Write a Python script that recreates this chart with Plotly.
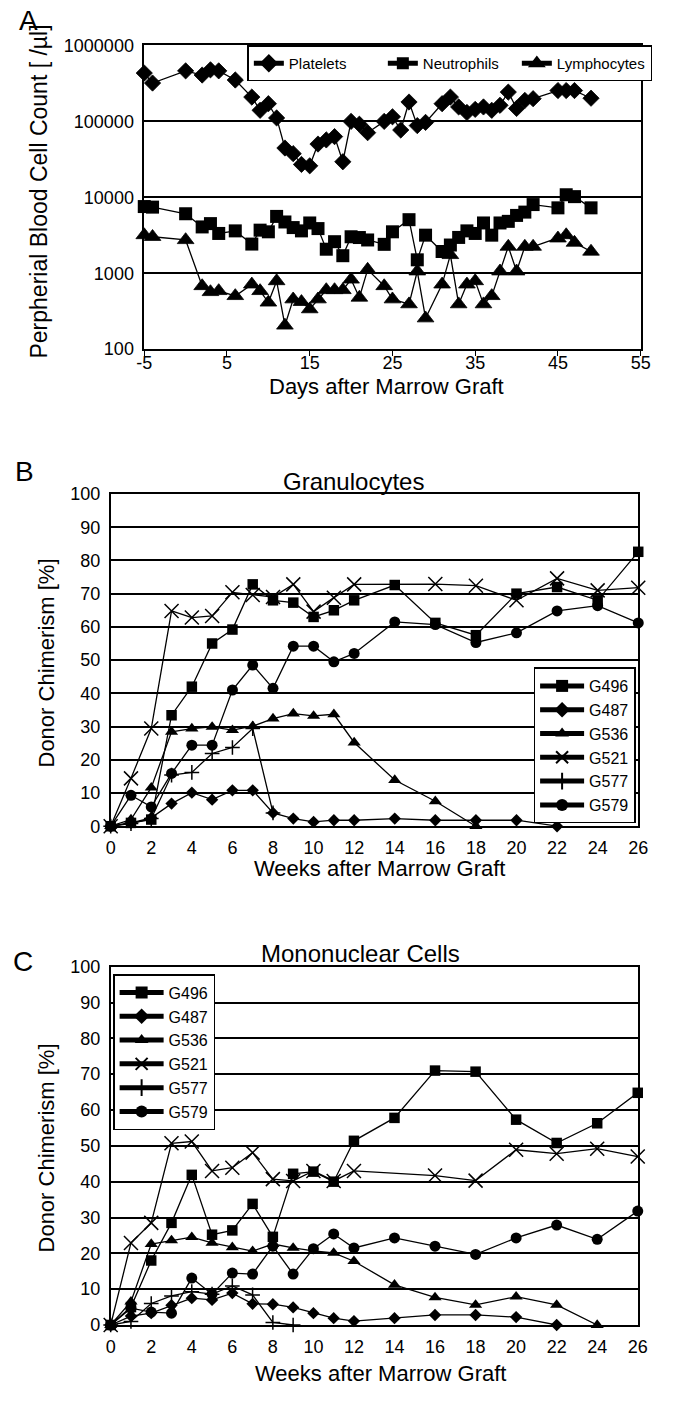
import plotly.graph_objects as go

W, H = 675, 1404
FONT = "Liberation Sans, Arial, sans-serif"

# ---------------- Panel A data ----------------
platelet_days = [-5, -4, 0, 2, 3, 4, 6, 8, 9, 10, 11, 12, 13, 14, 15, 16, 17, 18, 19, 20,
                 21, 22, 24, 25, 26, 27, 28, 29, 31, 32, 33, 34, 35, 36, 37, 38, 39, 40, 41, 42,
                 45, 46, 47, 49]
platelets = [433000, 320000, 463000, 408000, 478000, 463000, 351000, 209000, 140000, 171000,
             111000, 44600, 37600, 27100, 26000, 50300, 57000, 63000, 29400, 100000,
             91700, 71000, 100000, 115000, 77000, 180000, 88000, 97000, 171000, 209000,
             155000, 131000, 144000, 155000, 140000, 163000, 243000, 148000, 189000, 199000,
             255000, 255000, 255000, 202000]
cell_days = [-5, -4, 0, 2, 3, 4, 6, 8, 9, 10, 11, 12, 13, 14, 15, 16, 17, 18, 19, 20,
             21, 22, 24, 25, 27, 28, 29, 31, 32, 33, 34, 35, 36, 37, 38, 39, 40, 41, 42,
             45, 46, 47, 49]
neutrophils = [7550, 7420, 6070, 4070, 4500, 3340, 3610, 2420, 3690, 3510,
               5600, 4730, 3990, 3610, 4590, 3870, 2070, 2600, 1700, 3020,
               2950, 2740, 2400, 3510, 5070, 1500, 3170, 1930, 2350, 2960,
               3610, 3340, 4590, 3170, 4590, 4820, 5770, 6380, 8020,
               7260, 10800, 10200, 7260]
lymphocytes = [3180, 3020, 2740, 678, 566, 584, 502, 713, 584, 412,
               788, 205, 454, 419, 336, 454, 601, 601, 601, 828,
               478, 1115, 678, 454, 391, 1060, 255, 713, 1740, 391,
               713, 788, 391, 502, 1060, 2240, 1060, 2240, 2240,
               2880, 3180, 2530, 1930]
a_xticks = [-5, 5, 15, 25, 35, 45, 55]
a_xlabels = ["-5", "5", "15", "25", "35", "45", "55"]
a_yticks = [100, 1000, 10000, 100000, 1000000]

# ---------------- Panel B / C data ----------------
wk_full = [0, 1, 2, 3, 4, 5, 6, 7, 8, 9, 10, 11, 12, 14, 16, 18, 20, 22, 24, 26]
wk_to22 = [0, 1, 2, 3, 4, 5, 6, 7, 8, 9, 10, 11, 12, 14, 16, 18, 20, 22]
wk_to18 = [0, 1, 2, 3, 4, 5, 6, 7, 8, 9, 10, 11, 12, 14, 16, 18]
wk_to24 = [0, 1, 2, 3, 4, 5, 6, 7, 8, 9, 10, 11, 12, 14, 16, 18, 20, 22, 24]
wk_no14 = [0, 1, 2, 3, 4, 5, 6, 7, 8, 9, 10, 11, 12, 16, 18, 20, 22, 24, 26]
wk_to8 = [0, 1, 2, 3, 4, 5, 6, 7, 8]
wk_to9 = [0, 1, 2, 3, 4, 5, 6, 7, 8, 9]

gran_G496 = [0, 1, 2, 33.4, 42, 55, 59.2, 72.8, 68, 67.3, 63, 65, 68, 72.6, 61.2, 57.5, 70, 72, 68, 82.6]
gran_G487 = [0, 1, 2.5, 6.8, 10.1, 8, 10.8, 10.8, 4, 2.3, 1.3, 1.8, 1.8, 2.3, 1.8, 1.8, 1.8, 0]
gran_G536 = [0, 2, 11.6, 28.4, 29.4, 29.9, 28.9, 30.1, 32.4, 33.9, 33.2, 33.7, 25.2, 13.9, 7.5, 0]
gran_G521 = [0, 14.4, 29.4, 64.8, 62.8, 63.3, 70.4, 69.6, 69, 72.8, 64.6, 68.8, 72.8, 72.9, 72.4, 68, 74.6, 71, 71.8]
gran_G577 = [0, 0.8, 2.3, 15.4, 16.2, 21.9, 23.7, 29.4, 4]
gran_G579 = [0, 9.3, 5.8, 15.9, 24.4, 24.4, 41, 48.5, 41.5, 54.2, 54.2, 49.5, 52, 61.5, 60.7, 55.3, 58.2, 64.8, 66.4, 61.2]

mono_G496 = [0, 5, 18, 28.5, 41.9, 25.2, 26.4, 33.8, 24.6, 42.2, 42.8, 40, 51.4, 57.8, 71, 70.7, 57.3, 50.8, 56.3, 64.8]
mono_G487 = [0, 2.5, 3.3, 5.5, 7.5, 7, 8.9, 5.9, 5.8, 4.9, 3.3, 1.9, 1.1, 1.9, 2.8, 2.8, 2.2, 0]
mono_G536 = [0, 6.5, 22.6, 23.6, 24.5, 22.9, 21.7, 20.6, 22.6, 21.5, 20.7, 20.1, 17.8, 11.2, 7.7, 5.6, 7.9, 5.6, 0]
mono_G521 = [0, 22.9, 28.5, 50.7, 51.2, 43, 43.9, 48.1, 40.7, 40.2, 43, 40.2, 43, 41.7, 40.3, 48.9, 47.8, 49.2, 47]
mono_G577 = [0, 1, 6, 8.1, 9.3, 8.6, 10.9, 8.4, 0.7, 0]
mono_G579 = [0, 4.7, 3.6, 3.3, 13.1, 8.6, 14.5, 14.2, 22, 14.2, 21.3, 25.4, 21.5, 24.3, 22, 19.7, 24.3, 27.9, 23.9, 31.8]

week_ticks = list(range(0, 27, 2))
pct_ticks = list(range(0, 101, 10))


def px_x(p):
    return p / W


def px_y(p):
    return 1 - p / H


fig = go.Figure()
LINE = dict(color="black", width=1.3)

# Panel A traces
fig.add_trace(go.Scatter(x=platelet_days, y=platelets, name="Platelets", mode="lines+markers",
                         line=LINE, marker=dict(symbol="diamond", size=12.5, color="black",
                                                line=dict(width=0.8, color="black")),
                         xaxis="x", yaxis="y", legend="legend", cliponaxis=False))
fig.add_trace(go.Scatter(x=cell_days, y=neutrophils, name="Neutrophils", mode="lines+markers",
                         line=LINE, marker=dict(symbol="square", size=13, color="black"),
                         xaxis="x", yaxis="y", legend="legend", cliponaxis=False))
fig.add_trace(go.Scatter(x=cell_days, y=lymphocytes, name="Lymphocytes", mode="lines+markers",
                         line=LINE, marker=dict(symbol="triangle-up", size=14.5, color="black",
                                                line=dict(width=0.8, color="black")),
                         xaxis="x", yaxis="y", legend="legend", cliponaxis=False))

series_style = [
    ("G496", dict(symbol="square", size=10.5, color="black")),
    ("G487", dict(symbol="diamond", size=9.5, color="black")),
    ("G536", dict(symbol="triangle-up", size=11.5, color="black")),
    ("G521", dict(symbol="x-thin-open", size=14, color="black", line=dict(width=1.5, color="black"))),
    ("G577", dict(symbol="cross-thin-open", size=10.5, color="black", line=dict(width=1.5, color="black"))),
    ("G579", dict(symbol="circle", size=11, color="black")),
]

gran = [(wk_full, gran_G496), (wk_to22, gran_G487), (wk_to18, gran_G536),
        (wk_no14, gran_G521), (wk_to8, gran_G577), (wk_full, gran_G579)]
mono = [(wk_full, mono_G496), (wk_to22, mono_G487), (wk_to24, mono_G536),
        (wk_no14, mono_G521), (wk_to9, mono_G577), (wk_full, mono_G579)]

for (name, mk), (xs, ys) in zip(series_style, gran):
    fig.add_trace(go.Scatter(x=xs, y=ys, name=name, mode="lines+markers", line=LINE, marker=mk,
                             xaxis="x2", yaxis="y2", legend="legend2", cliponaxis=False))
for (name, mk), (xs, ys) in zip(series_style, mono):
    fig.add_trace(go.Scatter(x=xs, y=ys, name=name, mode="lines+markers", line=LINE, marker=mk,
                             xaxis="x3", yaxis="y3", legend="legend3", cliponaxis=False))

TICKFONT = dict(family=FONT, size=18, color="black")
common_x = dict(showline=True, mirror=True, linecolor="black", linewidth=1.5, showgrid=False,
                zeroline=False, tickfont=TICKFONT, fixedrange=True)
common_y = dict(showline=True, mirror=True, linecolor="black", linewidth=1.5, showgrid=True,
                gridcolor="black", gridwidth=1.5, zeroline=False, tickfont=TICKFONT, fixedrange=True,
                ticklabelstandoff=5)

LEG = dict(yanchor="top", bgcolor="white", bordercolor="black", borderwidth=1.5,
           itemsizing="constant")

# panel geometry (pixels)
A_L, A_R, A_T, A_B = 140, 650, 36, 344
B_L, B_R, B_T, B_B = 105.5, 647.5, 491, 828
C_L, C_R, C_T, C_B = 105.5, 647, 970.5, 1334

fig.update_layout(
    width=W, height=H, margin=dict(l=0, r=0, t=0, b=0),
    paper_bgcolor="white", plot_bgcolor="white",
    font=dict(family=FONT, color="black"),
    xaxis=dict(common_x, domain=[px_x(A_L), px_x(A_R)], range=[-5, 55], tickvals=a_xticks,
               ticktext=a_xlabels, ticks="outside", ticklen=5, tickcolor="black",
               ticklabelstandoff=-8, anchor="y"),
    yaxis=dict(common_y, domain=[px_y(A_B), px_y(A_T)], type="log", range=[2, 6],
               tickvals=a_yticks, ticktext=[str(v) for v in a_yticks], anchor="x"),
    xaxis2=dict(common_x, domain=[px_x(B_L), px_x(B_R)], range=[0, 26], tickvals=week_ticks,
                ticks="", ticklabelstandoff=4, anchor="y2"),
    yaxis2=dict(common_y, domain=[px_y(B_B), px_y(B_T)], range=[0, 100], tickvals=pct_ticks, anchor="x2"),
    xaxis3=dict(common_x, domain=[px_x(C_L), px_x(C_R)], range=[0, 26], tickvals=week_ticks,
                ticks="", ticklabelstandoff=5, anchor="y3"),
    yaxis3=dict(common_y, domain=[px_y(C_B), px_y(C_T)], range=[0, 100], tickvals=pct_ticks, anchor="x3"),
    legend=dict(LEG, orientation="h", xanchor="right", x=px_x(662), y=px_y(A_T), entrywidth=89,
                font=dict(family=FONT, size=15, color="black")),
    legend2=dict(LEG, xanchor="left", x=px_x(540), y=px_y(667), itemwidth=44,
                 font=dict(family=FONT, size=16, color="black")),
    legend3=dict(LEG, xanchor="left", x=px_x(108), y=px_y(978), itemwidth=44,
                 font=dict(family=FONT, size=16, color="black")),
    showlegend=True,
)


def ann(text, x, y, size, angle=0):
    fig.add_annotation(text=text, x=px_x(x), y=px_y(y), xref="paper", yref="paper",
                       xanchor="center", yanchor="middle", showarrow=False, textangle=angle,
                       font=dict(family=FONT, size=size, color="black"))


ann("A", 21, 11, 28)
ann("B", 17, 468, 28)
ann("C", 15, 965, 28)
ann("Granulocytes", 355, 478, 24)
ann("Mononuclear Cells", 362, 957, 24)
ann("Days after Marrow Graft", 389, 382, 22)
ann("Weeks after Marrow Graft", 382, 871, 22)
ann("Weeks after Marrow Graft", 383, 1383, 22)
ann("Perpherial Blood Cell Count [ /µl]", 32, 184, 23, -90)
ann("Donor Chimerism [%]", 40, 662, 22, -90)
ann("Donor Chimerism [%]", 40, 1154, 22, -90)

fig.write_html("out.html", config={"displayModeBar": False},
               post_script="document.body.style.margin='0px';")
